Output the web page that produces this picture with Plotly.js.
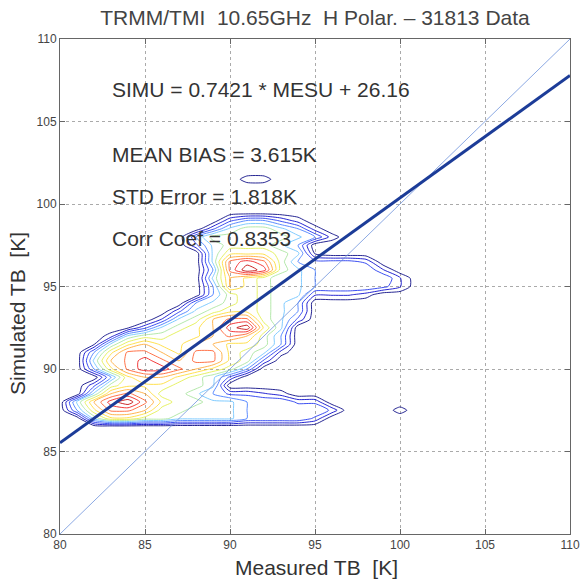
<!DOCTYPE html>
<html>
<head>
<meta charset="utf-8">
<script src="https://cdn.plot.ly/plotly-3.0.1.min.js"></script>
<style>html,body{margin:0;padding:0;background:#fff;}#chart{width:582px;height:579px;}</style>
</head>
<body>
<div id="chart"></div>
<script>
// Grid of measured TB (x) and simulated TB (y) for the density contours
const gridX = [80,81,82,83,84,85,86,87,88,89,90,91,92,93,94,95,96,97,98,99,100,101];
const gridY = [86,86.5,87,87.5,88,88.5,89,89.5,90,90.5,91,91.5,92,92.5,93,93.5,94,94.5,95,95.5,96,96.5,97,97.5,98,98.5,99,99.5,100,100.5,101,101.5,102];
// Relative point density (rows follow gridY, columns follow gridX)
const density = [
 [0,0,0,0,0,0,0,0,0,0,0,0,0,0,0,0,0,0,0,0,0,0],
 [0,0,0,0,0,0,0,0,0,0,0,0,0,0,0,0,0,0,0,0,0,0],
 [0,0,4,6,6,5,5,4,4,4,4,3,3,3,3,2,0,0,0,0,0,0],
 [0,3,6,8,8,7,5,5,4,4,4,3,3,3,3,3,2,0,0,0,1,0],
 [0,4,7,9,10,8,6,5,5,4,4,3,3,3,2,2,0,0,0,0,0,0],
 [0,0,4,7,8,7,5,5,4,3,2,2,1.5,1,0,0,0,0,0,0,0,0],
 [0,0,2,5,6,6,6,5,5,4,0,0,0,0,0,0,0,0,0,0,0,0],
 [0,0,0,3,6,7,7,6,5,4,2,0,0,0,0,0,0,0,0,0,0,0],
 [0,0,3,6,8,9,9,8,7,6,5,3,0,0,0,0,0,0,0,0,0,0],
 [0,0,4,7,8,9,8,7,8,8,6,5,2,0,0,0,0,0,0,0,0,0],
 [0,0,3,6,8,8,7,6,8,8,6,5,4,1,0,0,0,0,0,0,0,0],
 [0,0,0.5,4,6,7,6,6,7,7,6,6,5,3,0,0,0,0,0,0,0,0],
 [0,0,0,1,4,5,5,6,6,7,8,7,5,3,0,0,0,0,0,0,0,0],
 [0,0,0,0,0.5,2,4,5,6,7,9,10,6,4,0,0,0,0,0,0,0,0],
 [0,0,0,0,0,0,1.5,4,5,7,8,8,5,4,2,0,0,0,0,0,0,0],
 [0,0,0,0,0,0,0,2,4,5,6,6,5,4,3,0,0,0,0,0,0,0],
 [0,0,0,0,0,0,0,0,3,4,5,6,5,4,3,0,0,0,0,0,0,0],
 [0,0,0,0,0,0,0,0,0,3,5,6,5,4,4,1.5,1.5,1.5,1,0,0,0],
 [0,0,0,0,0,0,0,0,0,3,7,6,5,4,4,3,3,3,3,2.5,1.5,0],
 [0,0,0,0,0,0,0,0,0,4,7,6,5,4,4,3,3,3,3,3,1.5,0],
 [0,0,0,0,0,0,0,0,0,3,8,10,9,5,4,3,3,3,3,1.5,0,0],
 [0,0,0,0,0,0,0,0,0,4,8,9,8,5,3,2.5,2.5,2.5,2,0,0,0],
 [0,0,0,0,0,0,0,0,0,4,6,6,6,5,4,0.5,0,0,0,0,0,0],
 [0,0,0,0,0,0,0,0,2,4,5,5,5,4,3,0,0,0,0,0,0,0],
 [0,0,0,0,0,0,0,0,3,5,5,5,5,5,4,3,1,0,0,0,0,0],
 [0,0,0,0,0,0,0,0,0,2,4,5,5,4,3,1,0,0,0,0,0,0],
 [0,0,0,0,0,0,0,0,0,0,2,3,3,2,1,0,0,0,0,0,0,0],
 [0,0,0,0,0,0,0,0,0,0,0,0,0,0,0,0,0,0,0,0,0,0],
 [0,0,0,0,0,0,0,0,0,0,0,0,0,0,0,0,0,0,0,0,0,0],
 [0,0,0,0,0,0,0,0,0,0,0,0,0,0,0,0,0,0,0,0,0,0],
 [0,0,0,0,0,0,0,0,0,0,0,0,0,0,0,0,0,0,0,0,0,0],
 [0,0,0,0,0,0,0,0,0,0,0,1,1,0,0,0,0,0,0,0,0,0],
 [0,0,0,0,0,0,0,0,0,0,0,0,0,0,0,0,0,0,0,0,0,0]
];
const fitSlope = 0.7421;
const fitIntercept = 26.16;
const axisRange = [80, 110];
const tickVals = [80,85,90,95,100,105,110];
const statLabels = ["SIMU = 0.7421 * MESU + 26.16", "MEAN BIAS = 3.615K", "STD Error = 1.818K", "Corr Coef = 0.8353"];
const titleText = "TRMM/TMI\u00a0\u00a010.65GHz\u00a0\u00a0H Polar. \u2013 31813 Data";
const xTitle = "Measured TB\u00a0\u00a0[K]";
const yTitle = "Simulated TB\u00a0\u00a0[K]";

const FONT = '"Liberation Sans", Arial, Helvetica, sans-serif';
const jet = [[0,'#000080'],[0.12,'#0000e0'],[0.26,'#3a6cff'],[0.38,'#70d0ff'],[0.5,'#c8f060'],[0.6,'#ffee30'],[0.75,'#ff9a30'],[0.88,'#ff2020'],[1,'#c00000']];

const traces = [
  {
    type: 'contour', x: gridX, y: gridY, z: density,
    contours: {coloring: 'lines', start: 0.6, end: 9.4, size: 0.8},
    colorscale: jet, zmin: 0.6, zmax: 10, showscale: false,
    line: {width: 0.85, smoothing: 0.6}, hoverinfo: 'skip'
  },
  {
    type: 'scatter', mode: 'lines', x: axisRange, y: axisRange,
    line: {color: '#6f93dc', width: 0.8}, hoverinfo: 'skip'
  },
  {
    type: 'scatter', mode: 'lines', x: axisRange,
    y: axisRange.map(v => fitSlope * v + fitIntercept),
    line: {color: '#1c3c98', width: 3}, hoverinfo: 'skip'
  }
];

const statY = [89, 155, 196, 238]; // pixel rows of the text lines
const annotations = statLabels.map((t, i) => ({
  text: t, xref: 'paper', yref: 'paper', x: (110 - 60) / 510, y: (534 - statY[i]) / 495,
  xanchor: 'left', yanchor: 'middle', showarrow: false,
  font: {family: FONT, size: 21, color: '#333'}
}));
annotations.push({
  text: xTitle, xref: 'paper', yref: 'paper', x: (316 - 60) / 510, y: (534 - 567) / 495,
  xanchor: 'center', yanchor: 'middle', showarrow: false,
  font: {family: FONT, size: 21, color: '#333'}
});
annotations.push({
  text: yTitle, xref: 'paper', yref: 'paper', x: (17 - 60) / 510, y: (534 - 314) / 495,
  xanchor: 'center', yanchor: 'middle', showarrow: false, textangle: -90,
  font: {family: FONT, size: 21, color: '#333'}
});

const axisCommon = {
  range: axisRange, tickvals: tickVals, ticks: 'inside', ticklen: 5, tickcolor: '#666',
  showline: true, mirror: 'ticks', linecolor: '#666', linewidth: 1,
  showgrid: true, gridcolor: '#aaa', griddash: 'dot', gridwidth: 1,
  zeroline: false, tickfont: {family: FONT, size: 12, color: '#444'}
};

const layout = {
  width: 582, height: 579,
  margin: {l: 60, r: 12, t: 39, b: 45},
  paper_bgcolor: '#fff', plot_bgcolor: '#fff',
  showlegend: false,
  title: {text: titleText, xref: 'paper', x: 0.5, xanchor: 'center', yref: 'container', y: 1 - 18 / 579, yanchor: 'middle',
          font: {family: FONT, size: 21, color: '#444'}},
  xaxis: Object.assign({}, axisCommon),
  yaxis: Object.assign({}, axisCommon),
  annotations: annotations
};

Plotly.newPlot('chart', traces, layout, {displayModeBar: false, staticPlot: true});
</script>
</body>
</html>
